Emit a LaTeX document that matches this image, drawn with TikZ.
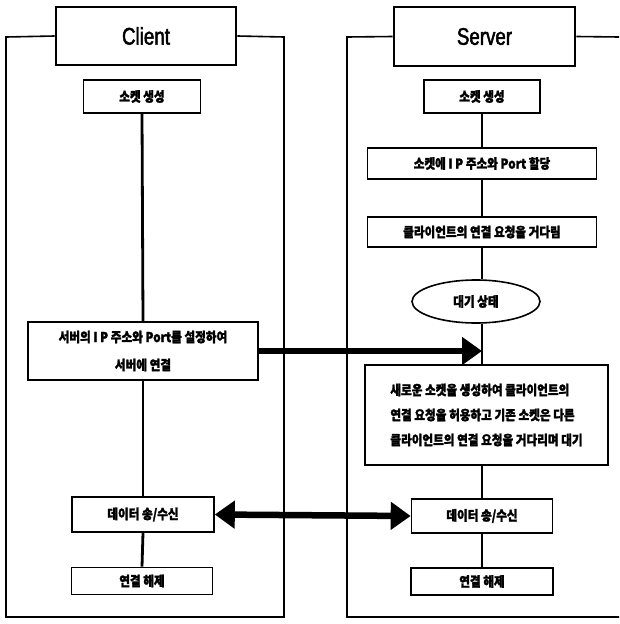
\documentclass[tikz,border=0pt]{standalone}
\usepackage{fontspec}
\usetikzlibrary{arrows.meta,shapes.geometric}
\newfontfamily\krfont{Noto Sans CJK KR}[FakeStretch=0.86,FakeBold=1.6]
\newfontfamily\titlefont{Liberation Sans}[FakeStretch=0.78,FakeBold=2]
\begin{document}
\begin{tikzpicture}[x=1pt,y=-1pt,
  title/.style={draw,line width=2.6pt,font=\titlefont\fontsize{24}{28}\selectfont,inner sep=0pt},
  krtext/.style={font=\krfont\bfseries\fontsize{13.5}{16}\selectfont},
  stepbox/.style={draw,line width=1.6pt,krtext,inner sep=0pt,fill=white},
  waitshape/.style={draw,ellipse,line width=1.6pt,krtext,inner sep=0pt,fill=white},
  flow/.style={line width=2.8pt},
  frame/.style={line width=1.6pt},
  bigarrow/.style={line width=6.5pt,-{Triangle[length=20pt,width=27pt]}},
  botharrow/.style={line width=6.5pt,{Triangle[length=20pt,width=27pt]}-{Triangle[length=20pt,width=27pt]}}
]
\useasboundingbox (0,0) rectangle (619,624);

% Client column
\node[title,minimum width=180pt,minimum height=58pt] (clientT) at (146,36) {Client};
\node[stepbox,minimum width=117pt,minimum height=33pt] (c1) at (142,96.5) {소켓 생성};
\node[stepbox,minimum width=230pt,minimum height=58pt,align=center] (c2) at (143,351)
  {서버의 I P 주소와 Port를 설정하여\\[12pt]서버에 연결};
\node[stepbox,minimum width=142pt,minimum height=35pt] (c3) at (143,514.5) {데이터 송/수신};
\node[stepbox,minimum width=141pt,minimum height=27pt] (c4) at (142,581) {연결 해제};

% Server column
\node[title,minimum width=181pt,minimum height=59pt] (serverT) at (484.5,36.5) {Server};
\node[stepbox,minimum width=116pt,minimum height=33pt] (s1) at (482,96.5) {소켓 생성};
\node[stepbox,minimum width=229pt,minimum height=31pt] (s2) at (482,163.5) {소켓에 I P 주소와 Port 할당};
\node[stepbox,minimum width=229pt,minimum height=30pt] (s3) at (482,232) {클라이언트의 연결 요청을 거다림};
\node[waitshape,minimum width=128pt,minimum height=43pt] (wait) at (476,301.5) {대기 상태};
\node[stepbox,minimum width=243pt,minimum height=100pt,align=left] (s4) at (486.5,415)
  {새로운 소켓을 생성하여 클라이언트의\\[9pt]연결 요청을 허용하고 기존 소켓은 다른\\[9pt]클라이언트의 연결 요청을 거다리며 대기};
\node[stepbox,minimum width=141pt,minimum height=34pt] (s5) at (482,516) {데이터 송/수신};
\node[stepbox,minimum width=142pt,minimum height=27pt] (s6) at (482,581.5) {연결 해제};

% Frames around each side
\draw[frame] (clientT.west) -- (6,37) -- (6,617) -- (284,617) -- (284,37) -- (clientT.east);
\draw[frame] (serverT.west) -- (347,37) -- (347,617) -- (619,617);
\draw[frame] (serverT.east) -- (619,37);

% Client flow
\draw[flow] (c1.south) -- (c2.north);
\draw[flow] (c2.south) -- (c3.north);
\draw[flow] (c3.south) -- (c4.north);

% Server flow
\draw[flow] (s1.south) -- (s2.north);
\draw[flow] (s2.south) -- (s3.north);
\draw[flow] (s3.south) -- (s3.south |- wait.north);
\draw[flow] (s3.south |- wait.south) -- (s3.south |- s4.north);
\draw[flow] (s3.south |- s4.south) -- (s5.north);
\draw[flow] (s5.south) -- (s6.north);

% Connection request and data exchange
\coordinate (rx) at (482,351);
\draw[bigarrow] (c2.east |- rx) -- (rx);
\draw[botharrow] (c3.east) -- (s5.west);
\end{tikzpicture}
\end{document}
